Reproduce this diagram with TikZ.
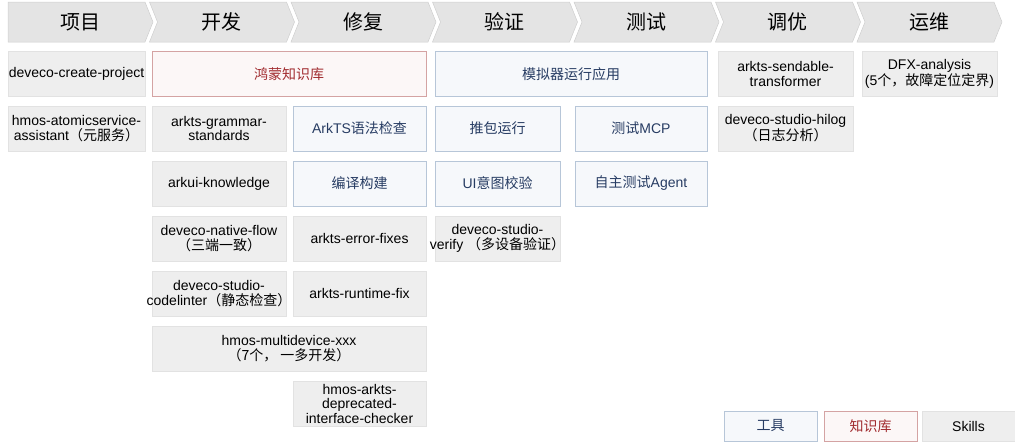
\documentclass[tikz,border=0pt]{standalone}
\usepackage{fontspec}
\setmainfont{Liberation Sans}
\newfontfamily\cjk{Noto Sans CJK SC}
\usetikzlibrary{positioning}
\definecolor{hGray}{HTML}{E4E4E4}
\definecolor{hLine}{HTML}{CFCFCF}
\definecolor{sFill}{HTML}{EEEEEE}
\definecolor{sLine}{HTML}{E2E2E2}
\definecolor{tFill}{HTML}{F6F8FB}
\definecolor{tLine}{HTML}{B7C6D8}
\definecolor{tText}{HTML}{273C63}
\definecolor{kFill}{HTML}{FCF7F7}
\definecolor{kLine}{HTML}{D4A3A3}
\definecolor{kText}{HTML}{A12B2F}
\newcommand\zh[1]{{\cjk #1}}
\newcommand\wide[1]{\makebox[0pt]{#1}}

\begin{document}
\begin{tikzpicture}[x=1pt, y=-1pt,
    stage/.style={fill=hGray, draw=hLine, line width=0.5pt},
    cell/.style={minimum height=45, inner sep=0pt, align=center, line width=0.6pt,
      font=\fontsize{14}{14.5}\selectfont},
    skill/.style={cell, fill=sFill, draw=sLine},
    tool/.style={cell, fill=tFill, draw=tLine, text=tText},
    know/.style={cell, fill=kFill, draw=kLine, text=kText}]
    \useasboundingbox (0,0) rectangle (1015,442);

    \foreach \lbl [count=\i from 0] in {项目,开发,修复,验证,测试,调优,运维}{
      \pgfmathsetmacro\xl{8+141.5*\i}
      \pgfmathsetmacro\nd{\i==0 ? 0 : 8}
      \draw[stage] (\xl,2) -- ++(137,0) -- ++(8,20) -- ++(-8,20) -- ++(-137,0) -- ++(\nd,-20) -- cycle;
      \node[font=\cjk\fontsize{20}{24}\selectfont] (stage\i) at ({\xl+72},22) {\lbl};
    }

    % row 1
    \node[skill, minimum width=137] (create) at (76.5,74) {deveco-create-project};
    \node[know, minimum width=274] (hmkb) at (289,74) {\zh{鸿蒙知识库}};
    \node[tool, minimum width=272] (emu) at (571,74) {\zh{模拟器运行应用}};
    \node[skill, minimum width=135] (sendable) at (785.5,74) {arkts-sendable-\\transformer};
    \node[skill, minimum width=135] (dfx) at (929.5,74) {DFX-analysis\\(5\zh{个，故障定位定界})};

    % row 2
    \node[skill, minimum width=137] (atomic) at (76.5,128.5) {hmos-atomicservice-\\assistant\zh{（元服务）}};
    \node[skill, minimum width=134] (grammar) at (219,128.5) {arkts-grammar-\\standards};
    \node[tool, minimum width=133] (lint) at (359.5,128.5) {ArkTS\zh{语法检查}};
    \node[tool, minimum width=125] (push) at (497.5,128.5) {\zh{推包运行}};
    \node[tool, minimum width=132] (mcp) at (641,128.5) {\zh{测试}MCP};
    \node[skill, minimum width=135] (hilog) at (785.5,128.5) {deveco-studio-hilog\\\zh{（日志分析）}};

    % row 3
    \node[skill, minimum width=134] (arkui) at (219,183.5) {arkui-knowledge};
    \node[tool, minimum width=133] (build) at (359.5,183.5) {\zh{编译构建}};
    \node[tool, minimum width=125] (uicheck) at (497.5,183.5) {UI\zh{意图校验}};
    \node[tool, minimum width=132] (agent) at (641,183.5) {\zh{自主测试}Agent};

    % row 4
    \node[skill, minimum width=134] (native) at (219,238.5) {deveco-native-flow\\\zh{（三端一致）}};
    \node[skill, minimum width=133] (errfix) at (359.5,238.5) {arkts-error-fixes};
    \node[skill, minimum width=125] (verify) at (497.5,238.5) {deveco-studio-\\\wide{verify \zh{（多设备验证）}}};

    % row 5
    \node[skill, minimum width=134] (codelinter) at (219,293.5) {deveco-studio-\\\wide{codelinter\zh{（静态检查）}}};
    \node[skill, minimum width=133] (rtfix) at (359.5,293.5) {arkts-runtime-fix};

    % row 6 and 7
    \node[skill, minimum width=274] (multi) at (289,348.5) {hmos-multidevice-xxx\\\zh{（7个， 一多开发）}};
    \node[skill, minimum width=133] (deprec) at (359.5,403.5) {hmos-arkts-\\deprecated-\\interface-checker};

    % legend
    \node[tool, minimum width=93, minimum height=30] (lgtool) at (770.5,426) {\zh{工具}};
    \node[know, minimum width=93, minimum height=30] (lgknow) at (870.5,426) {\zh{知识库}};
    \node[skill, minimum width=93, minimum height=30] (lgskill) at (968.5,426) {Skills};

  \end{tikzpicture}
\end{document}
